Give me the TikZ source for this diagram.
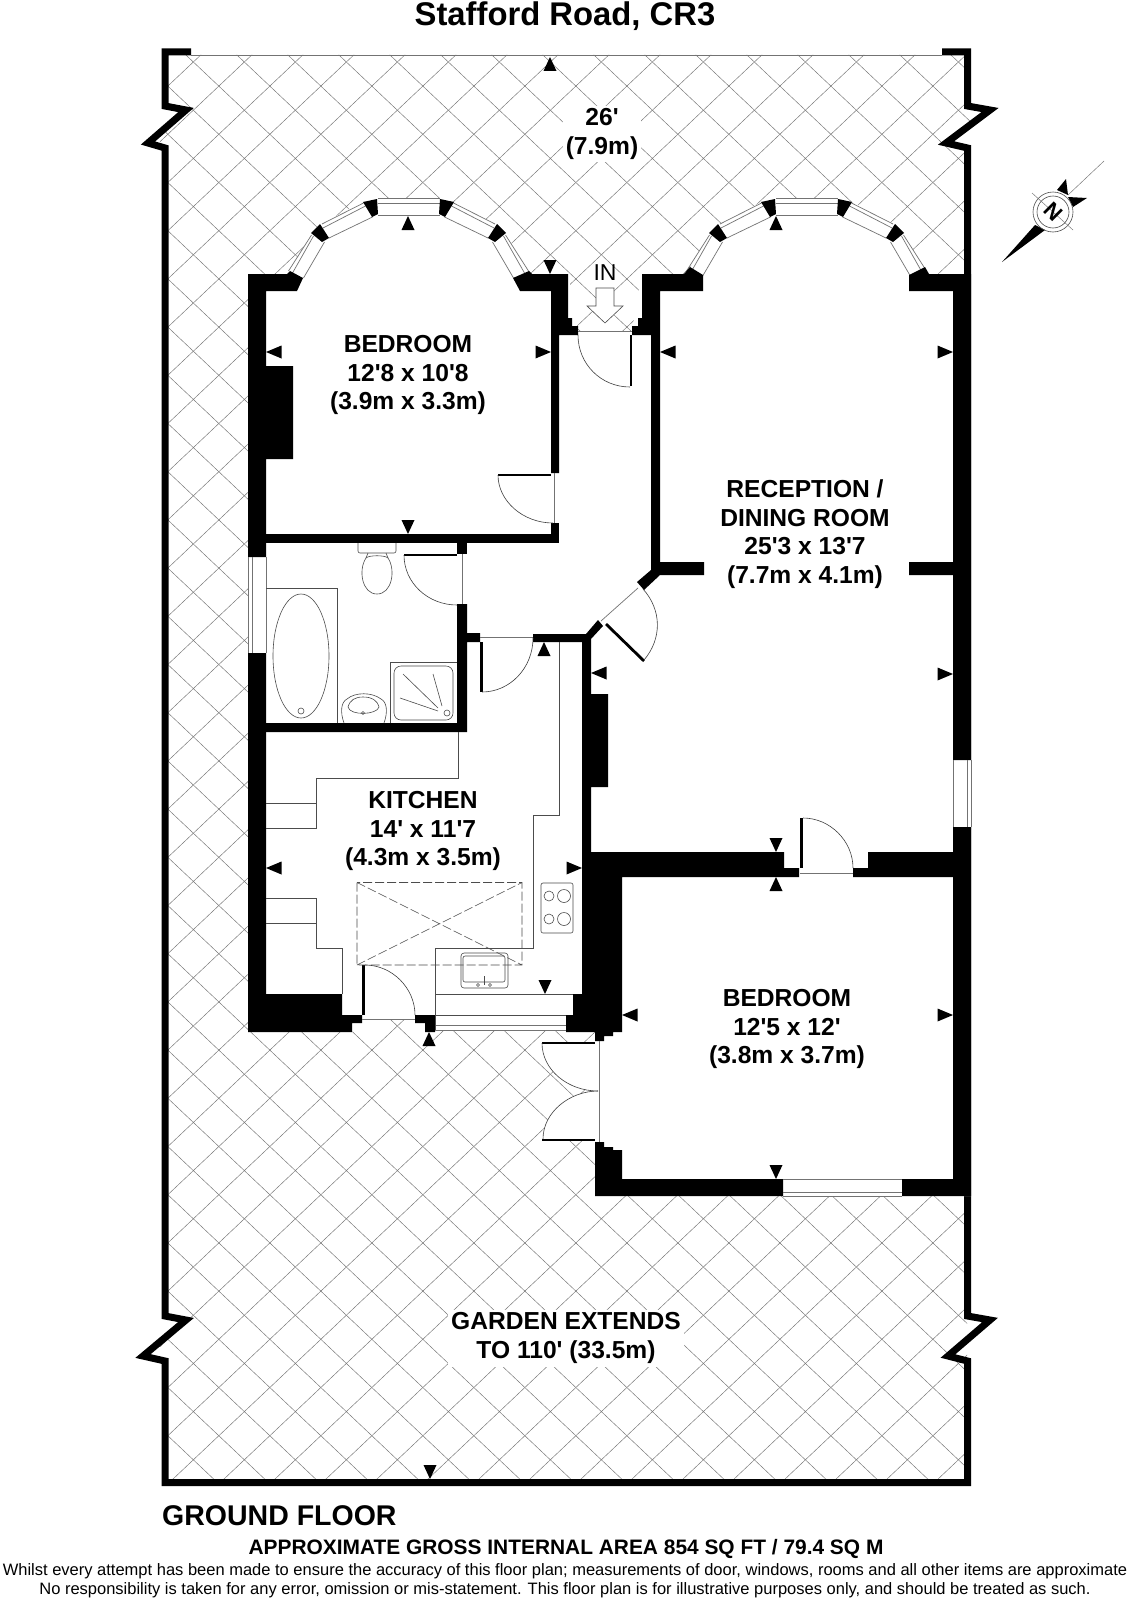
\documentclass[tikz,border=0pt]{standalone}
\usepackage{fontspec}
\setmainfont{Liberation Sans}[Ligatures=TeXOff]
\tikzset{
  wall/.style={fill=black},
  fence/.style={draw=black,line width=7pt,line join=miter,line cap=butt},
  hatch/.style={draw=black!55,line width=0.45pt},
  glass/.style={draw=black!55,line width=0.7pt},
  fixture/.style={draw=black!70,line width=0.6pt},
  swing/.style={draw=black!75,line width=0.6pt},
  leaf/.style={draw=black,line width=2.8pt},
  roomlabel/.style={font=\bfseries\fontsize{24.6}{28.7}\selectfont,align=center,inner sep=0pt},
  pointer/.style={fill=black},
}
\begin{document}
\begin{tikzpicture}[x=1pt,y=-1pt]
  \useasboundingbox[fill=white] (0,0) rectangle (1128,1600);
  % garden hatching
  \begin{scope}
    \clip (165,55) -- (967,55) -- (967,105) -- (990,107) -- (946,145) -- (967,148) -- (967,1482)
      -- (165,1482) -- (165,1360) -- (145,1358) -- (190,1318) -- (165,1315) -- (165,148)
      -- (146,144) -- (190,109) -- (165,107) -- cycle;
    \foreach \k in {-17,...,32}
      \draw[hatch] (160,30.5+\k*48.2) -- (975,800.7+\k*48.2);
    \foreach \k in {-1,...,46}
      \draw[hatch] (160,93.5+\k*48.2) -- (975,-676.7+\k*48.2);
  \end{scope}
  % garden boundary
  \draw[glass] (191,55) -- (942,55);
  \draw[fence] (191,52) -- (165,52) -- (165,106) -- (186,110) -- (148,143) -- (165,148) -- (165,1316)
    -- (186,1320) -- (143,1356) -- (165,1361) -- (165,1482.5) -- (967.5,1482.5) -- (967.5,1361)
    -- (948,1356) -- (990,1320) -- (967.5,1316) -- (967.5,148) -- (946,143) -- (990,110) -- (967.5,106)
    -- (967.5,52) -- (942,52);
  % building floor
  \fill[white] (248,274) -- (568,274) -- (578,331) -- (632,331) -- (642,274) -- (971,274) -- (971,1196)
    -- (595,1196) -- (595,1032) -- (566,1030) -- (435,1030) -- (435,1032) -- (415,1019) -- (362,1019)
    -- (352,1032) -- (248,1032) -- cycle;
  \fill[white] (595,1043) -- (542,1043) .. controls (542,1070) and (568,1091) .. (598,1091)
    .. controls (570,1091) and (543,1112) .. (543,1139) -- (595,1141) -- cycle;
  % bay windows
  \foreach \cx in {408.5,806.5} {
    \fill[white,shift={(\cx,0)}] (-120,274) -- (-97,233) -- (-88,224) -- (-45,202) -- (-31,198) -- (31,198)
      -- (45,202) -- (88,224) -- (97,233) -- (120,274) -- cycle;
    \foreach \s in {1,-1} {
      \begin{scope}[shift={(\cx,0)},xscale=\s]
        \draw[glass] (-120,271) -- (-97,235) (-116,273) -- (-95,236) (-105,278) -- (-84,242);
        \draw[glass] (-86.5,224) -- (-45,203) (-85.5,228) -- (-43,206) (-79.5,238) -- (-36,217);
        \draw[glass] (0,198) -- (-31,198) (0,203) -- (-31,203) (0,215) -- (-31,215);
        \fill[wall] (-97.5,233) -- (-88.5,224) -- (-79.5,238) -- (-86.5,242) -- cycle;
        \fill[wall] (-45.5,202) -- (-31.5,199) -- (-30.5,214) -- (-36.5,217) -- cycle;
      \end{scope}
    }
  }
  % walls
  \fill[wall] (248,274) -- (287,274) -- (290,271) -- (303,278) -- (297,291) -- (266,291) -- (266,366) -- (293,366)
    -- (293,459) -- (266,459) -- (266,557) -- (248,557) -- cycle;
  \fill[wall] (513,278) -- (529,271) -- (532,274) -- (568,274) -- (568,318) -- (572,318) -- (572,326) -- (578,326)
    -- (578,335) -- (559,335) -- (559,473) -- (551,473) -- (551,291) -- (520,291) -- cycle;
  \fill[wall] (551,523) rectangle (559,543);
  \fill[wall] (266,534) rectangle (559,543);
  \fill[wall] (457,543) rectangle (467,554);
  \fill[wall] (457,604) -- (467,604) -- (467,633) -- (480,633) -- (480,642) -- (467,642) -- (467,732) -- (266,732)
    -- (266,723) -- (457,723) -- cycle;
  \fill[wall] (248,653) -- (266,653) -- (266,994) -- (342,994) -- (342,1015) -- (362,1015) -- (362,1023) -- (352,1023)
    -- (352,1032) -- (248,1032) -- cycle;
  \fill[wall] (415,1015) -- (435,1015) -- (435,1032) -- (425,1032) -- (425,1023) -- (415,1023) -- cycle;
  \fill[wall] (533,634) -- (586,634) -- (598,620) -- (603,626) -- (591,639) -- (591,694) -- (608,694) -- (608,787)
    -- (591,787) -- (591,852) -- (784,852) -- (784,868) -- (799,868) -- (799,877) -- (622,877) -- (622,1032)
    -- (613,1032) -- (613,1036) -- (604,1036) -- (604,1041) -- (595,1041) -- (595,1032) -- (566,1032) -- (566,1015)
    -- (573,1015) -- (573,994) -- (582,994) -- (582,642) -- (533,642) -- cycle;
  \fill[wall] (853,868) -- (868,868) -- (868,852) -- (953,852) -- (953,827) -- (971,827) -- (971,1196) -- (902,1196)
    -- (902,1179) -- (953,1179) -- (953,877) -- (853,877) -- cycle;
  \fill[wall] (595,1142) -- (604,1142) -- (604,1147) -- (613,1147) -- (613,1150) -- (622,1150) -- (622,1179)
    -- (783,1179) -- (783,1196) -- (595,1196) -- cycle;
  \fill[wall] (642,274) -- (684,274) -- (690,267) -- (703,275) -- (703,291) -- (660,291) -- (660,562) -- (704,562)
    -- (704,575) -- (660,575) -- (644,590) -- (637,582) -- (651,570) -- (651,335) -- (632,335) -- (632,326)
    -- (638,326) -- (638,318) -- (642,318) -- cycle;
  \fill[wall] (909,275) -- (925,267) -- (929,274) -- (971,274) -- (971,760) -- (953,760) -- (953,575) -- (909,575)
    -- (909,562) -- (953,562) -- (953,291) -- (909,291) -- cycle;
  % side windows
  \draw[glass] (248,557) -- (248,653) (252,557) -- (252,653) (266,557) -- (266,653);
  \draw[glass] (953,760) -- (953,827) (967,760) -- (967,827) (971,760) -- (971,827);
  \draw[glass] (783,1179) -- (902,1179) (783,1192) -- (902,1192) (783,1196) -- (902,1196);
  \draw[glass] (435,1025) -- (566,1025) (435,1030) -- (566,1030);
  % doors
  \draw[glass] (578,331) -- (632,331);
  \draw[leaf] (631,335) -- (631,386);
  \draw[swing] (578,335) .. controls (578,364) and (601,387) .. (630,387);
  \draw[leaf] (498,475) -- (551,475);
  \draw[glass] (554,473) -- (554,523);
  \draw[swing] (498,475) .. controls (498,501) and (523,523) .. (553,523);
  \draw[leaf] (404,555) -- (457,555);
  \draw[glass] (462,554) -- (462,604);
  \draw[swing] (404,555) .. controls (404,583) and (428,605) .. (457,605);
  \draw[leaf] (481.5,642) -- (481.5,692);
  \draw[glass] (480,637) -- (533,637);
  \draw[swing] (482,692) .. controls (510,692) and (533,668) .. (533,638);
  \draw[leaf] (606,624) -- (644,661);
  \draw[glass] (601,621) -- (638,588);
  \draw[swing] (643,589) .. controls (662,610) and (662,639) .. (644,660);
  \draw[leaf] (801.5,818) -- (801.5,868);
  \draw[glass] (800,873) -- (853,873);
  \draw[swing] (803,818) .. controls (830,818) and (853,841) .. (853,868);
  \draw[leaf] (363.5,965) -- (363.5,1015);
  \draw[glass] (362,1019) -- (415,1019);
  \draw[swing] (365,965) .. controls (392,965) and (415,988) .. (415,1015);
  \draw[glass] (599,1041) -- (599,1142);
  \draw[leaf] (542,1043) -- (595,1043);
  \draw[leaf] (542,1140) -- (595,1140);
  \draw[swing] (542,1043) .. controls (542,1070) and (568,1091) .. (598,1091);
  \draw[swing] (598,1091) .. controls (570,1091) and (543,1112) .. (543,1139);
  % kitchen units
  \draw[fixture] (458,732) -- (458,778) -- (316,778) -- (316,828) -- (266,828) (266,803) -- (316,803);
  \draw[fixture] (266,898) -- (316,898) -- (316,948) -- (342,948) -- (342,994) (266,923) -- (316,923);
  \draw[fixture] (559,642) -- (559,815) -- (533,815) -- (533,948) -- (435,948) -- (435,1030);
  \draw[fixture] (435,994) -- (573,994) (435,1015) -- (566,1015);
  \draw[fixture,dash pattern=on 9pt off 3pt] (357,882.5) rectangle (522,965)
    (357,882.5) -- (522,965) (357,965) -- (522,882.5);
  \draw[fixture,rounded corners=2pt] (541,883) rectangle (573,933);
  \foreach \hx/\hy/\hr in {549/896/5,564/896/6.5,549/919/5,564/919/6.5}
    \draw[fixture] (\hx,\hy) circle[radius=\hr];
  \draw[fixture,rounded corners=3pt] (461,953) rectangle (508,988);
  \draw[fixture,rounded corners=2pt] (463,956) rectangle (505,982);
  \draw[fixture] (484,976) -- (484,985);
  \draw[fixture] (478,985) circle[radius=1.5] (490,985) circle[radius=1.5];
  % bathroom
  \draw[fixture] (266,588) -- (337,588) -- (337,723);
  \draw[fixture] (301,656) circle[x radius=28,y radius=62];
  \draw[fixture] (301,711) circle[radius=3];
  \draw[fixture,rounded corners=2pt] (358,543) -- (358,553) -- (396,553) -- (396,543);
  \draw[fixture] (368,553) -- (366,558) (386,553) -- (388,558);
  \draw[fixture] (366,558) .. controls (358,570) and (362,594) .. (377,594) .. controls (392,594) and (396,570) .. (388,558)
    .. controls (385,555) and (369,555) .. (366,558);
  \draw[fixture] (344,723) .. controls (340,712) and (341,702) .. (347,699) .. controls (355,692) and (372,692) .. (381,699)
    .. controls (387,702) and (388,712) .. (384,723);
  \draw[fixture] (348,707) .. controls (350,700) and (355,697) .. (363,697) .. controls (372,697) and (377,700) .. (379,707)
    .. controls (377,715) and (350,716) .. (348,707);
  \draw[fixture] (363,713) circle[radius=1.5];
  \draw[fixture] (390,723) -- (390,662) -- (457,662);
  \draw[fixture,rounded corners=7pt] (394,666) rectangle (453,720);
  \draw[fixture] (447,713) circle[radius=3];
  \draw[fixture] (403,674) -- (438,708) (433,674) -- (442,706) (400,698) -- (438,711);
  % entrance arrow
  \draw[fixture,fill=white] (596,288) -- (614,288) -- (614,306) -- (623,306) -- (605,323) -- (587,306) -- (596,306) -- cycle;
  % dimension pointers
  \foreach \tx/\ty in {550/57,408/216,776/216,544/642,429/1032,776/877}
    \fill[pointer] (\tx,\ty) -- (\tx+6.5,\ty+14) -- (\tx-6.5,\ty+14) -- cycle;
  \foreach \tx/\ty in {550/274,545/994,408/534,776/852,776/1179,430/1479}
    \fill[pointer] (\tx,\ty) -- (\tx+6.5,\ty-14) -- (\tx-6.5,\ty-14) -- cycle;
  \foreach \tx/\ty in {266/352,660/352,266/868,591/673,622/1015}
    \fill[pointer] (\tx,\ty) -- (\tx+15.5,\ty-6.5) -- (\tx+15.5,\ty+6.5) -- cycle;
  \foreach \tx/\ty in {551/352,953/352,582/868,953/674,953/1015}
    \fill[pointer] (\tx,\ty) -- (\tx-15.5,\ty-6.5) -- (\tx-15.5,\ty+6.5) -- cycle;
  % compass
  \fill[black] (1002,262) -- (1035,225) -- (1045,230) -- cycle;
  \fill[black] (1057,190) -- (1066,179) -- (1068,195) -- cycle;
  \fill[black] (1068,197) -- (1087,198) -- (1073,207) -- cycle;
  \draw[fixture] (1053,212) circle[radius=20] (1053,212) circle[radius=16];
  \draw[hatch] (1032,193) -- (1073,230) (1068,195) -- (1104,161);
  \node[rotate=-45,inner sep=0pt,font=\bfseries\fontsize{22}{22}\selectfont] (north) at (1053,212) {N};
  % labels
  \node[inner sep=0pt,font=\bfseries\fontsize{32.8}{32.8}\selectfont] (title) at (565,16) {Stafford Road, CR3};
  \node[roomlabel,fill=white,inner sep=3pt] (width) at (602,134) {26'\\(7.9m)};
  \node[font=\fontsize{23}{23}\selectfont,inner sep=0pt] (inlabel) at (605,273) {IN};
  \node[roomlabel] (bedroomone) at (408,375) {BEDROOM\\12'8 x 10'8\\(3.9m x 3.3m)};
  \node[roomlabel] (reception) at (805,534) {RECEPTION /\\DINING ROOM\\25'3 x 13'7\\(7.7m x 4.1m)};
  \node[roomlabel] (kitchen) at (423,831) {KITCHEN\\14' x 11'7\\(4.3m x 3.5m)};
  \node[roomlabel] (bedroomtwo) at (787,1029) {BEDROOM\\12'5 x 12'\\(3.8m x 3.7m)};
  \node[roomlabel,fill=white,inner sep=3pt] (garden) at (566,1338) {GARDEN EXTENDS\\TO 110' (33.5m)};
  \node[anchor=west,inner sep=0pt,font=\bfseries\fontsize{28.5}{28.5}\selectfont] (floor) at (162,1516) {GROUND FLOOR};
  \node[inner sep=0pt,font=\bfseries\fontsize{20.9}{20.9}\selectfont] (area) at (566,1549) {APPROXIMATE GROSS INTERNAL AREA 854 SQ FT / 79.4 SQ M};
  \node[inner sep=0pt,font=\fontsize{16.5}{16.5}\selectfont] (noteone) at (565,1571) {Whilst every attempt has been made to ensure the accuracy of this floor plan; measurements of door, windows, rooms and all other items are approximate};
  \node[inner sep=0pt,font=\fontsize{16.5}{16.5}\selectfont] (notetwo) at (565,1590) {No responsibility is taken for any error, omission or mis-statement. This floor plan is for illustrative purposes only, and should be treated as such.};
\end{tikzpicture}
\end{document}
